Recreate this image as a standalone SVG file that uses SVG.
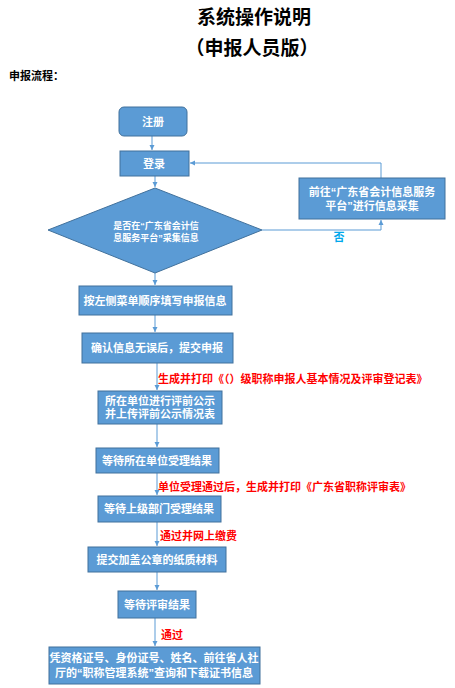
<svg xmlns="http://www.w3.org/2000/svg" width="455" height="688" viewBox="0 0 455 688">
<style>
.title{font-family:"Liberation Serif","Noto Sans CJK SC",serif;font-weight:bold;font-size:19px;fill:#000;text-anchor:middle}
.head{font-family:"Liberation Serif","Noto Sans CJK SC",serif;font-weight:bold;font-size:11px;fill:#000}
.box{fill:#5b9bd5;stroke:#41719c;stroke-width:1}
.t{font-family:"Liberation Sans","Noto Sans CJK SC",sans-serif;font-weight:bold;font-size:11px;fill:#fff;text-anchor:middle}
.ts{font-family:"Liberation Sans","Noto Sans CJK SC",sans-serif;font-weight:bold;font-size:9px;fill:#fff;text-anchor:middle}
.red{font-family:"Liberation Sans","Noto Sans CJK SC",sans-serif;font-weight:bold;font-size:11px;fill:#ff0000}
.no{font-family:"Liberation Sans","Noto Sans CJK SC",sans-serif;font-weight:bold;font-size:11px;fill:#00a8ec;text-anchor:middle}
.ln{fill:none;stroke:#5b9bd5;stroke-width:1}
</style>
<defs>
<marker id="ah" markerWidth="6" markerHeight="6" refX="5" refY="3" orient="auto" markerUnits="userSpaceOnUse">
<path d="M0,0.5 L5,3 L0,5.5 Z" fill="#5b9bd5"/>
</marker>
</defs>
<text class="title" x="254" y="24">系统操作说明</text>
<text class="title" x="252" y="55">（申报人员版）</text>
<text class="head" x="9" y="80">申报流程：</text>

<g id="connectors">
<line class="ln" x1="152" y1="136" x2="152" y2="150" marker-end="url(#ah)"/>
<line class="ln" x1="155" y1="176" x2="155" y2="187" marker-end="url(#ah)"/>
<polyline class="ln" points="262,230 381,230 381,220" marker-end="url(#ah)"/>
<path class="ln" d="M381,178 V163 H190" marker-end="url(#ah)"/>
<line class="ln" x1="155" y1="273" x2="155" y2="285" marker-end="url(#ah)"/>
<line class="ln" x1="155" y1="315" x2="155" y2="332" marker-end="url(#ah)"/>
<line class="ln" x1="157" y1="363" x2="157" y2="390" marker-end="url(#ah)"/>
<line class="ln" x1="157" y1="424" x2="157" y2="447" marker-end="url(#ah)"/>
<line class="ln" x1="157" y1="473" x2="157" y2="495" marker-end="url(#ah)"/>
<line class="ln" x1="157" y1="522" x2="157" y2="546" marker-end="url(#ah)"/>
<line class="ln" x1="157" y1="572" x2="157" y2="590" marker-end="url(#ah)"/>
<line class="ln" x1="155" y1="618" x2="155" y2="646" marker-end="url(#ah)"/>
<text class="no" x="339" y="241">否</text>
<text class="red" x="158" y="383">生成并打印《（）级职称申报人基本情况及评审登记表》</text>
<text class="red" x="158" y="491">单位受理通过后，生成并打印《广东省职称评审表》</text>
<text class="red" x="160" y="540">通过并网上缴费</text>
<text class="red" x="161" y="639">通过</text>
</g>

<g id="n-register">
<rect class="box" x="119" y="107" width="68" height="29" rx="5"/>
<text class="t" x="153" y="126">注册</text>
</g>
<g id="n-login">
<rect class="box" x="120" y="151" width="69" height="25"/>
<text class="t" x="154" y="168">登录</text>
</g>
<g id="n-decision">
<polygon class="box" points="155,188 262,230 155,273 48,230"/>
<text class="ts" x="156" y="229">是否在“广东省会计信</text>
<text class="ts" x="156" y="241">息服务平台”采集信息</text>
</g>
<g id="n-collect">
<rect class="box" x="299" y="178" width="146" height="41"/>
<text class="t" x="372" y="196">前往“广东省会计信息服务</text>
<text class="t" x="372" y="210">平台”进行信息采集</text>
</g>
<g id="n-fill">
<rect class="box" x="79" y="286" width="153" height="29"/>
<text class="t" x="155" y="305">按左侧菜单顺序填写申报信息</text>
</g>
<g id="n-submit">
<rect class="box" x="82" y="333" width="151" height="30"/>
<text class="t" x="157" y="352">确认信息无误后，提交申报</text>
</g>
<g id="n-publicity">
<rect class="box" x="98" y="391" width="124" height="33"/>
<text class="t" x="160" y="405">所在单位进行评前公示</text>
<text class="t" x="160" y="418">并上传评前公示情况表</text>
</g>
<g id="n-unit">
<rect class="box" x="96" y="448" width="123" height="25"/>
<text class="t" x="157" y="465">等待所在单位受理结果</text>
</g>
<g id="n-upper">
<rect class="box" x="98" y="496" width="123" height="26"/>
<text class="t" x="159" y="513">等待上级部门受理结果</text>
</g>
<g id="n-paper">
<rect class="box" x="88" y="547" width="138" height="25"/>
<text class="t" x="157" y="564">提交加盖公章的纸质材料</text>
</g>
<g id="n-review">
<rect class="box" x="118" y="591" width="78" height="27"/>
<text class="t" x="157" y="609">等待评审结果</text>
</g>
<g id="n-final">
<rect class="box" x="49" y="647" width="211" height="37"/>
<text class="t" x="154" y="662">凭资格证号、身份证号、姓名、前往省人社</text>
<text class="t" x="154" y="677">厅的“职称管理系统”查询和下载证书信息</text>
</g>
</svg>
